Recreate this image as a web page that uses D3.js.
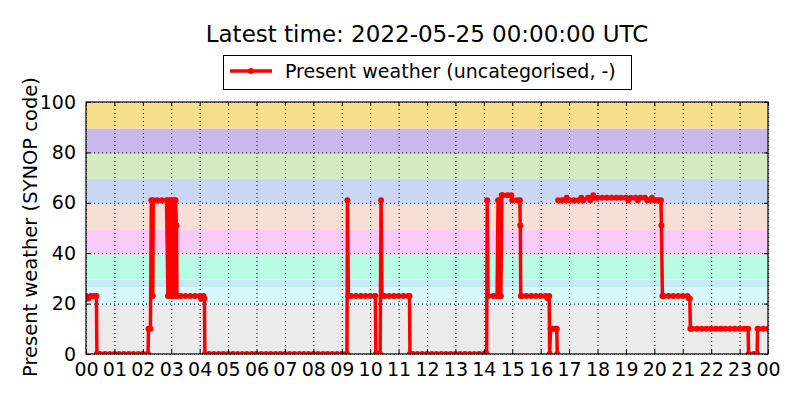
<!DOCTYPE html>
<html>
<head>
<meta charset="utf-8">
<script src="https://cdn.jsdelivr.net/npm/d3@7"></script>
<style>
  html, body { margin: 0; padding: 0; background: #fff; }
  svg { display: block; font-family: "DejaVu Sans", sans-serif; }
</style>
</head>
<body>
<svg id="chart" width="800" height="400"></svg>
<script>
const
  TITLE = 'Latest time: 2022-05-25 00:00:00 UTC',
  SERIES_NAME = 'Present weather (uncategorised, -)',
  Y_LABEL = 'Present weather (SYNOP code)',
  DAY_START = '2022-05-24T00:00:00Z';

const times = [
  '00:00', '00:05', '00:10', '00:15', '00:20', '00:22', '00:23', '00:30', '00:40', '00:50',
  '01:00', '01:10', '01:20', '01:30', '01:40', '01:50',
  '02:00', '02:10', '02:11', '02:12', '02:16', '02:18', '02:21', '02:22', '02:30', '02:40', '02:50', '02:53', '02:55', '02:57', '02:59',
  '03:01', '03:03', '03:05', '03:07', '03:09', '03:11', '03:12', '03:20', '03:30', '03:40', '03:50',
  '04:00', '04:03', '04:06', '04:08', '04:10', '04:11', '04:20', '04:30', '04:40', '04:50',
  '05:00', '05:10', '05:20', '05:30', '05:40', '05:50',
  '06:00', '06:10', '06:20', '06:30', '06:40', '06:50',
  '07:00', '07:10', '07:20', '07:30', '07:40', '07:50',
  '08:00', '08:10', '08:20', '08:30', '08:40', '08:50',
  '09:00', '09:10', '09:11', '09:12', '09:14', '09:20', '09:30', '09:40', '09:50',
  '10:00', '10:10', '10:11', '10:12', '10:20', '10:21', '10:23', '10:25', '10:30', '10:40', '10:50',
  '11:00', '11:10', '11:20', '11:23', '11:24', '11:30', '11:40', '11:50',
  '12:00', '12:10', '12:20', '12:30', '12:40', '12:50',
  '13:00', '13:10', '13:20', '13:30', '13:40', '13:50',
  '14:00', '14:06', '14:07', '14:09', '14:20', '14:28', '14:30', '14:32', '14:34', '14:36', '14:38', '14:40', '14:50', '14:58',
  '15:00', '15:10', '15:16', '15:17', '15:18', '15:20', '15:30', '15:40', '15:50',
  '16:00', '16:10', '16:15', '16:18', '16:19', '16:21', '16:25', '16:30', '16:34', '16:35', '16:36', '16:37', '16:45', '16:50', '16:55',
  '17:00', '17:10', '17:20', '17:26', '17:30', '17:40', '17:45', '17:51', '17:55',
  '18:00', '18:10', '18:20', '18:30', '18:40', '18:50',
  '19:00', '19:05', '19:10', '19:20', '19:25', '19:30', '19:40', '19:45', '19:50', '19:55',
  '20:00', '20:05', '20:10', '20:14', '20:15', '20:17', '20:20', '20:30', '20:40', '20:50',
  '21:00', '21:10', '21:13', '21:15', '21:16', '21:20', '21:30', '21:40', '21:50',
  '22:00', '22:10', '22:20', '22:30', '22:40', '22:50',
  '23:00', '23:10', '23:18', '23:19', '23:30', '23:37', '23:38', '23:40', '23:50', '24:00'
];

// present weather code at each time (null = missing report)
const weatherCodes = [
  23, 22, 23, 23, 23, 23, 0, 0, 0, 0,
  0, 0, 0, 0, 0, 0,
  0, 0, 0, 10, 10, 61, 23, 61, 61, 61, 61, 23, 61, 23, 61,
  23, 61, 23, 61, 61, 51, 23, 23, 23, 23, 23,
  23, 22, 22, 23, 22, 0, 0, 0, 0, 0,
  0, 0, 0, 0, 0, 0,
  0, 0, 0, 0, 0, 0,
  0, 0, 0, 0, 0, 0,
  0, 0, 0, 0, 0, 0,
  0, 0, 0, 61, 23, 23, 23, 23, 23,
  23, 23, 23, 0, 0, 0, 61, 23, 23, 23, 23,
  23, 23, 23, 23, 0, 0, 0, 0,
  0, 0, 0, 0, 0, 0,
  0, 0, 0, 0, 0, 0,
  0, 0, 61, 23, 23, 23, 61, 23, 61, 23, 63, 63, 63, 63,
  61, 61, 61, 51, 23, 23, 23, 23, 23,
  23, 23, 22, 23, 0, 10, 10, 10, 10, 0, null, 61, 61, 61, 62,
  61, 61, 61, 62, 61, 62, 61, 63, 62,
  62, 62, 62, 62, 62, 62,
  62, 61, 62, 62, 61, 62, 62, 61, 61, 62,
  61, 61, 61, 61, 51, 23, 23, 23, 23, 23,
  23, 23, 22, 22, 10, 10, 10, 10, 10,
  10, 10, 10, 10, 10, 10,
  10, 10, 10, 0, 0, 0, 10, 10, 10, 10
];

// background bands for the SYNOP code groups
const bandStarts = [0, 19.5, 26.5, 29.5, 39.5, 49.5, 59.5, 69.5, 79.5, 89.5];
const bandEnds   = [19.5, 26.5, 29.5, 39.5, 49.5, 59.5, 69.5, 79.5, 89.5, 100];
const bandColors = ['#ebebeb', '#d9f8fd', '#c5ebf3', '#b9fde4', '#f9cbf9', '#f7dfd6', '#c9d7f4', '#d4ebc1', '#c9b8ec', '#f7df8b'];

const yTicks = [0, 20, 40, 60, 80, 100];

const
  margin = { top: 102, right: 32, bottom: 46, left: 86 },
  width = 800,
  height = 400;

const svg = d3.select('#chart');
const base = new Date(DAY_START);

const data = times.map((t, i) => {
  const [hh, mm] = t.split(':').map(Number);
  return { time: new Date(base.getTime() + (hh * 60 + mm) * 60000), value: weatherCodes[i] };
});

const x = d3.scaleUtc()
  .domain([base, d3.utcDay.offset(base, 1)])
  .range([margin.left, width - margin.right]);

const y = d3.scaleLinear()
  .domain([0, 100])
  .range([height - margin.bottom, margin.top]);

// clip everything inside the axes
svg.append('defs').append('clipPath')
  .attr('id', 'plot-clip')
  .append('rect')
  .attr('x', margin.left)
  .attr('y', margin.top)
  .attr('width', width - margin.left - margin.right)
  .attr('height', height - margin.top - margin.bottom);

// bands
svg.append('g')
  .selectAll('rect')
  .data(bandColors)
  .enter()
  .append('rect')
  .attr('x', margin.left)
  .attr('width', width - margin.left - margin.right)
  .attr('y', (c, i) => y(bandEnds[i]))
  .attr('height', (c, i) => y(bandStarts[i]) - y(bandEnds[i]))
  .attr('fill', (c) => c);

const hourTicks = x.ticks(d3.utcHour.every(1));

// dotted grid
const grid = svg.append('g')
  .attr('stroke', '#000')
  .attr('stroke-width', 1)
  .attr('stroke-dasharray', '1,3');

grid.selectAll('line.vx')
  .data(hourTicks)
  .enter()
  .append('line')
  .attr('x1', (d) => x(d) + 0.5)
  .attr('x2', (d) => x(d) + 0.5)
  .attr('y1', y(0))
  .attr('y2', y(100));

grid.selectAll('line.hy')
  .data(yTicks)
  .enter()
  .append('line')
  .attr('x1', margin.left)
  .attr('x2', width - margin.right)
  .attr('y1', (d) => y(d) + 0.5)
  .attr('y2', (d) => y(d) + 0.5);

// series
const plot = svg.append('g').attr('clip-path', 'url(#plot-clip)');

const line = d3.line()
  .defined((d) => d.value !== null)
  .x((d) => x(d.time))
  .y((d) => y(d.value));

plot.append('path')
  .datum(data)
  .attr('fill', 'none')
  .attr('stroke', '#ff0000')
  .attr('stroke-width', 3.5)
  .attr('stroke-linejoin', 'round')
  .attr('d', line);

plot.selectAll('circle')
  .data(data.filter((d) => d.value !== null))
  .enter()
  .append('circle')
  .attr('cx', (d) => x(d.time))
  .attr('cy', (d) => y(d.value))
  .attr('r', 3)
  .attr('fill', '#ff0000');

// axes (classic style: ticks inside, on all four sides)
const fmtHour = d3.utcFormat('%H');

svg.append('g')
  .attr('transform', `translate(0, ${y(0)})`)
  .call(d3.axisBottom(x).tickValues(hourTicks).tickFormat(fmtHour).tickSizeInner(-4).tickSizeOuter(0).tickPadding(9))
  .call((g) => g.select('.domain').remove())
  .call((g) => g.selectAll('text').attr('font-size', 19).attr('font-family', 'DejaVu Sans').attr('fill', '#000'));

svg.append('g')
  .attr('transform', `translate(0, ${y(100)})`)
  .call(d3.axisTop(x).tickValues(hourTicks).tickFormat('').tickSizeInner(-4).tickSizeOuter(0))
  .call((g) => g.select('.domain').remove());

svg.append('g')
  .attr('transform', `translate(${margin.left}, 0)`)
  .call(d3.axisLeft(y).tickValues(yTicks).tickSizeInner(-4).tickSizeOuter(0).tickPadding(10))
  .call((g) => g.select('.domain').remove())
  .call((g) => g.selectAll('text').attr('font-size', 19).attr('font-family', 'DejaVu Sans').attr('fill', '#000'));

svg.append('g')
  .attr('transform', `translate(${width - margin.right}, 0)`)
  .call(d3.axisRight(y).tickValues(yTicks).tickFormat('').tickSizeInner(-4).tickSizeOuter(0))
  .call((g) => g.select('.domain').remove());

// frame
svg.append('rect')
  .attr('x', margin.left)
  .attr('y', margin.top)
  .attr('width', width - margin.left - margin.right)
  .attr('height', height - margin.top - margin.bottom)
  .attr('fill', 'none')
  .attr('stroke', '#000')
  .attr('stroke-width', 1.2);

// title
svg.append('text')
  .attr('x', 427)
  .attr('y', 42)
  .attr('text-anchor', 'middle')
  .attr('font-size', 23)
  .attr('fill', '#000')
  .text(TITLE);

// y label
svg.append('text')
  .attr('transform', 'translate(37, 227) rotate(-90)')
  .attr('text-anchor', 'middle')
  .attr('font-size', 19.5)
  .attr('fill', '#000')
  .text(Y_LABEL);

// legend
const legend = svg.append('g');

legend.append('rect')
  .attr('x', 223.5)
  .attr('y', 55.5)
  .attr('width', 408)
  .attr('height', 34)
  .attr('fill', '#fff')
  .attr('stroke', '#000')
  .attr('stroke-width', 1);

legend.append('line')
  .attr('x1', 230)
  .attr('x2', 272)
  .attr('y1', 71)
  .attr('y2', 71)
  .attr('stroke', '#ff0000')
  .attr('stroke-width', 3.5);

legend.append('circle')
  .attr('cx', 251)
  .attr('cy', 71)
  .attr('r', 3)
  .attr('fill', '#ff0000');

legend.append('text')
  .attr('x', 285)
  .attr('y', 78)
  .attr('font-size', 19)
  .attr('fill', '#000')
  .text(SERIES_NAME);
</script>
</body>
</html>
